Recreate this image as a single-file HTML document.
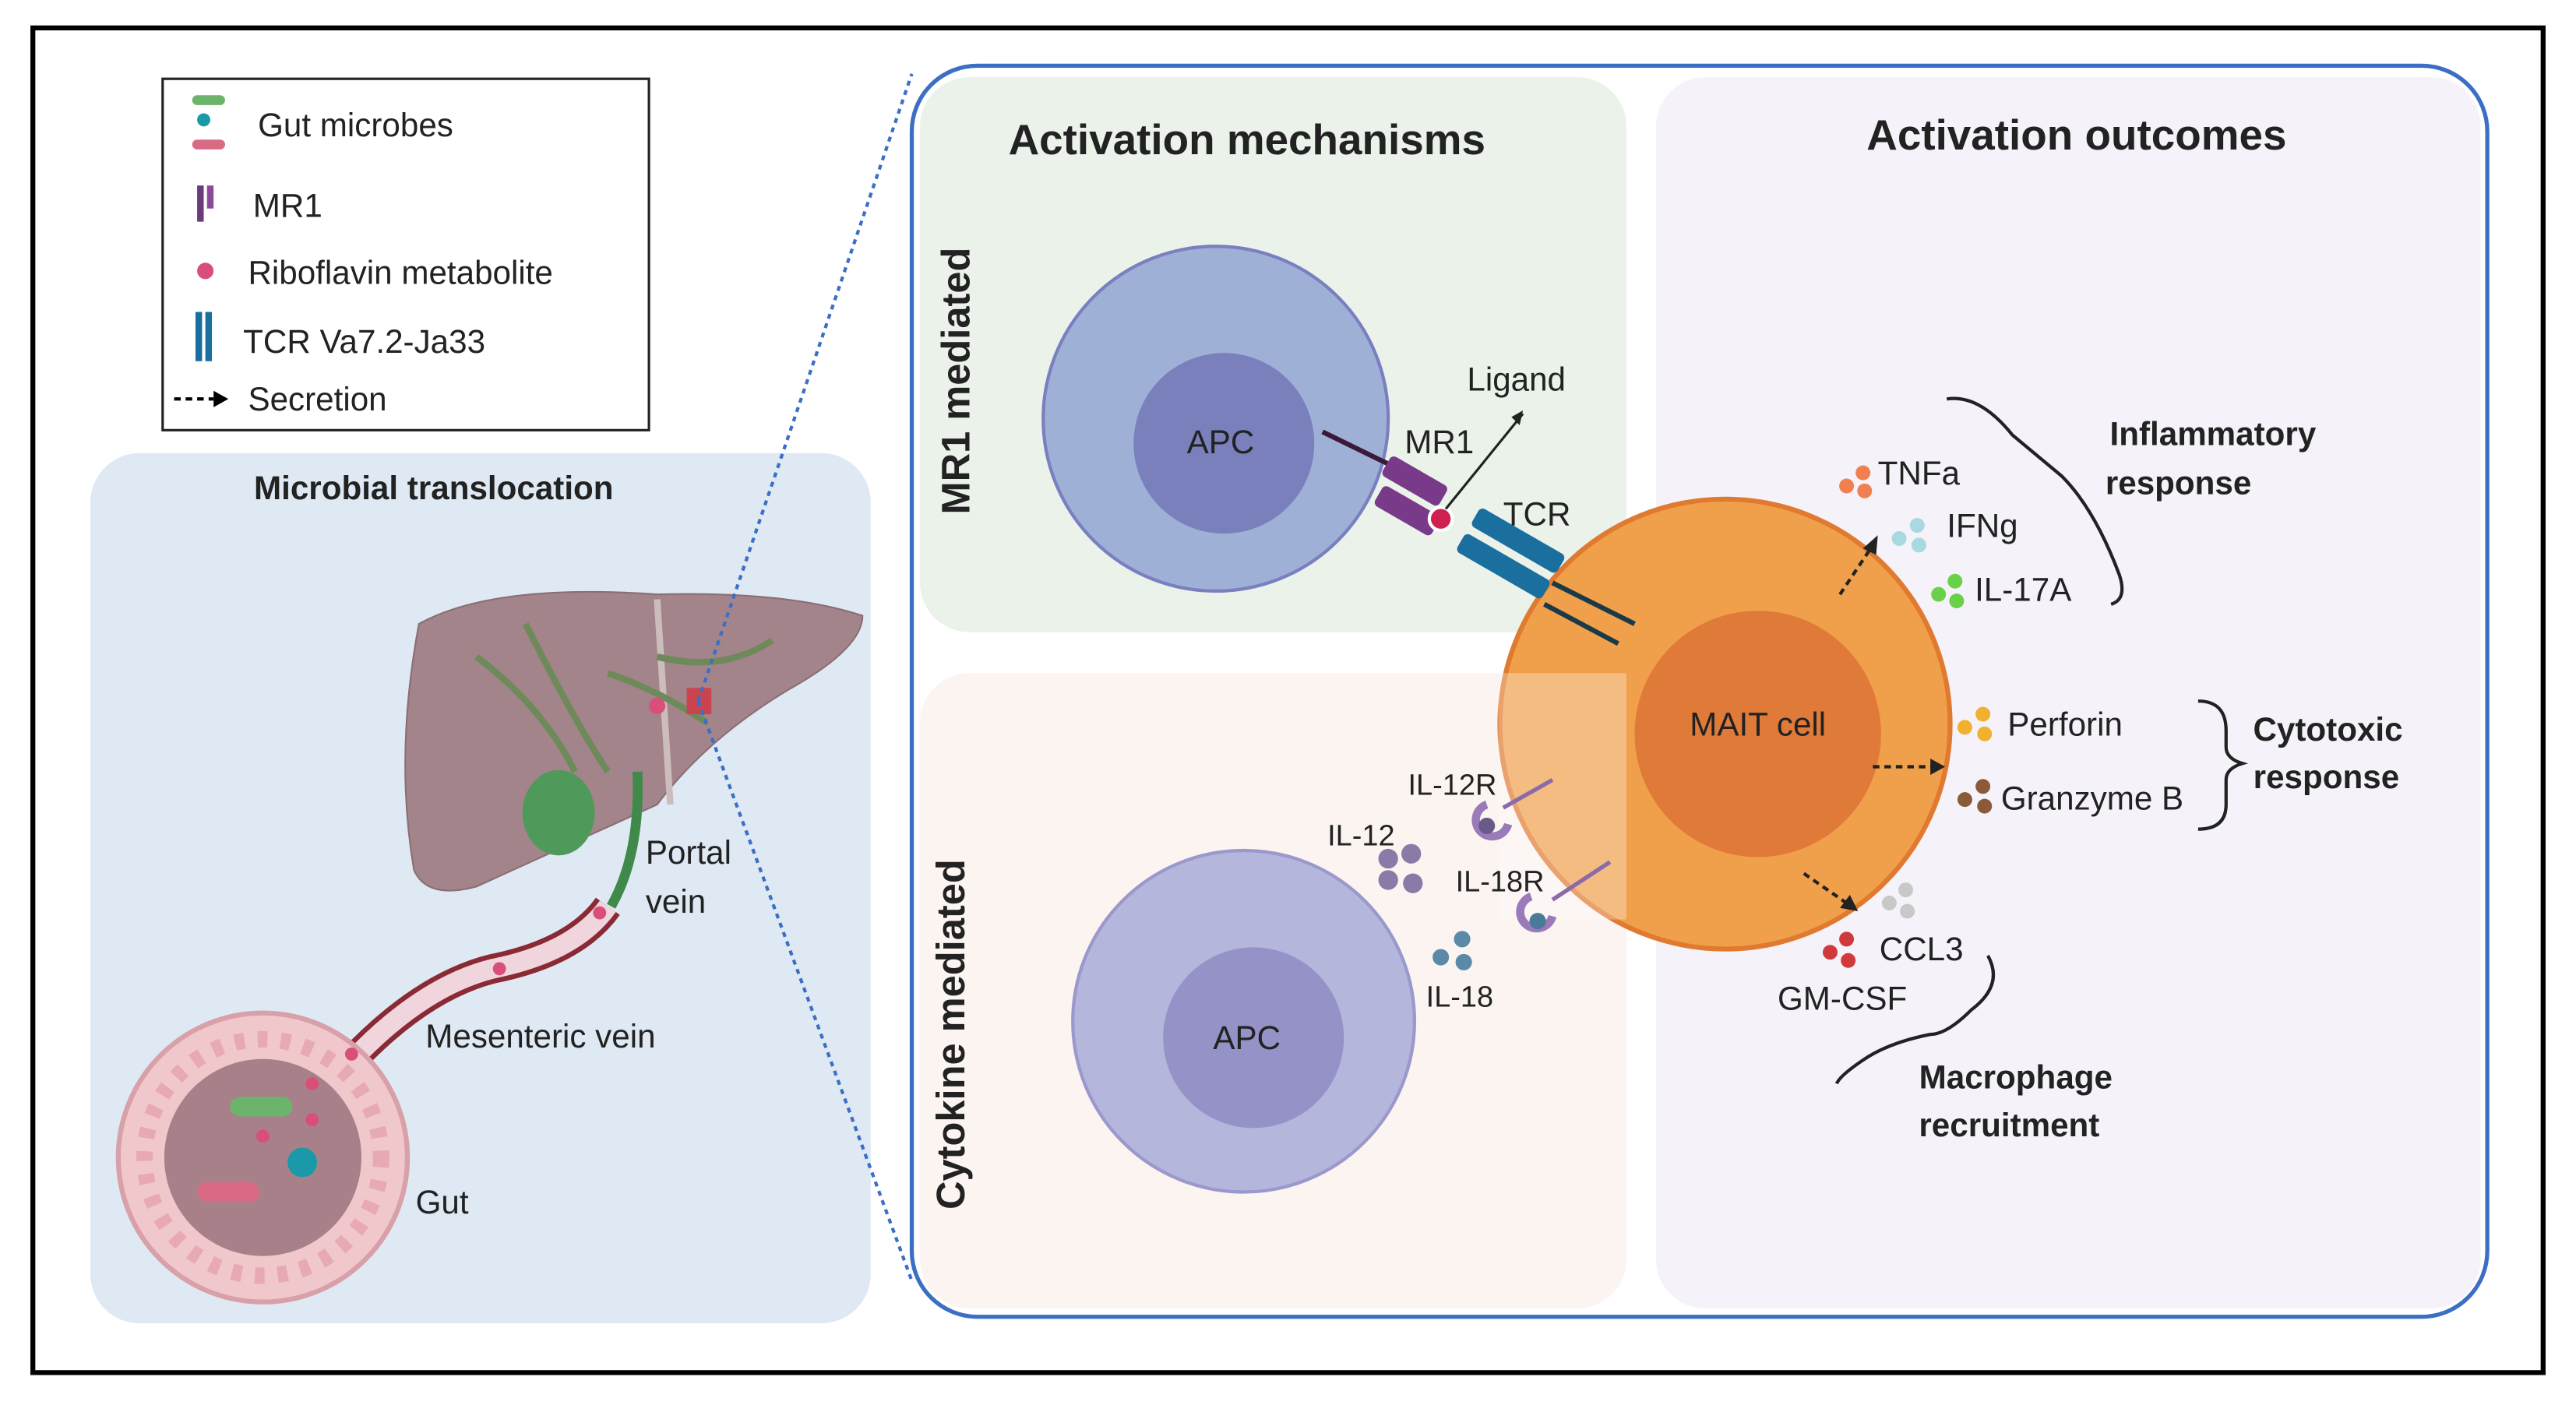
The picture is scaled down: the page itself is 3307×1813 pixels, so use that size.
<!DOCTYPE html>
<html><head><meta charset="utf-8"><style>
html,body{margin:0;padding:0;background:#fff}
svg{display:block}
text{font-family:"Liberation Sans",sans-serif}
</style></head><body>
<svg width="3307" height="1813" viewBox="0 0 1568 860" preserveAspectRatio="none" xmlns="http://www.w3.org/2000/svg">
<rect x="0" y="0" width="1568" height="860" fill="#fff"/>
<rect x="20" y="17" width="1528" height="819" fill="none" stroke="#000" stroke-width="3"/>

<!-- Legend -->
<rect x="99" y="48" width="296" height="214" fill="#fff" stroke="#222" stroke-width="1.5"/>
<rect x="117" y="58" width="20" height="6" rx="3" fill="#6cb36c"/>
<circle cx="124" cy="73" r="4" fill="#1a9aa8"/>
<rect x="117" y="85" width="20" height="6" rx="3" fill="#d86a84"/>
<text x="157" y="83" font-size="20" fill="#222">Gut microbes</text>
<rect x="120" y="113" width="4" height="22" fill="#6a3a7a"/><rect x="126" y="113" width="4" height="14" fill="#8a4a9a"/>
<text x="154" y="132" font-size="20" fill="#222">MR1</text>
<circle cx="125" cy="165" r="5" fill="#d94f7a"/>
<text x="151" y="173" font-size="20" fill="#222">Riboflavin metabolite</text>
<rect x="119" y="190" width="4" height="30" fill="#1a6f9e"/><rect x="125" y="190" width="4" height="30" fill="#1a6f9e"/>
<text x="148" y="215" font-size="20" fill="#222">TCR Va7.2-Ja33</text>
<line x1="106" y1="243" x2="130" y2="243" stroke="#000" stroke-width="2" stroke-dasharray="4 3"/>
<polygon points="130,238 139,243 130,248" fill="#000"/>
<text x="151" y="250" font-size="20" fill="#222">Secretion</text>

<!-- Left panel -->
<rect x="55" y="276" width="475" height="530" rx="30" fill="#dfe9f3"/>
<text x="264" y="304" font-size="20" font-weight="bold" fill="#222" text-anchor="middle">Microbial translocation</text>
<!-- liver -->
<path d="M255,380 Q300,355 400,362 Q480,360 525,375 Q525,395 480,420 Q430,450 400,490 L290,540 Q260,548 252,530 Q240,460 255,380 Z" fill="#a3848a" stroke="#8a6e74" stroke-width="1"/>
<path d="M400,365 L408,490" stroke="#cdbcbc" stroke-width="4" fill="none"/>
<path d="M290,400 Q330,430 350,470 M320,380 Q350,440 370,470 M400,400 Q440,410 470,390 M370,410 Q400,420 430,440" stroke="#6f8a5a" stroke-width="4" fill="none"/>
<ellipse cx="340" cy="495" rx="22" ry="26" fill="#4f9a5a"/>
<path d="M388,470 Q390,520 372,552" stroke="#3f8a4a" stroke-width="6" fill="none"/>
<circle cx="400" cy="430" r="5" fill="#d94f7a"/>
<rect x="418" y="419" width="15" height="16" fill="#c9444f"/>
<!-- veins -->
<path d="M220,640 Q260,600 300,590 Q350,580 370,552" stroke="#8a2a35" stroke-width="18" fill="none"/>
<path d="M220,640 Q260,600 300,590 Q350,580 370,552" stroke="#f0d6dc" stroke-width="12" fill="none"/>
<circle cx="365" cy="556" r="4" fill="#d94f7a"/><circle cx="304" cy="590" r="4" fill="#d94f7a"/>
<text x="393" y="526" font-size="20" fill="#222">Portal</text>
<text x="393" y="556" font-size="20" fill="#222">vein</text>
<text x="259" y="638" font-size="20" fill="#222">Mesenteric vein</text>
<!-- gut -->
<circle cx="160" cy="705" r="88" fill="#f0c8cc" stroke="#d8a0a8" stroke-width="3"/>
<circle cx="160" cy="705" r="60" fill="#a8808a"/>
<circle cx="160" cy="705" r="72" fill="none" stroke="#e8aab2" stroke-width="10" stroke-dasharray="6 8"/>
<rect x="140" y="668" width="38" height="12" rx="6" fill="#6cb36c"/>
<rect x="120" y="720" width="38" height="12" rx="6" fill="#d86a84"/>
<circle cx="184" cy="708" r="9" fill="#1a9aa8"/>
<circle cx="190" cy="660" r="4" fill="#d94f7a"/><circle cx="190" cy="682" r="4" fill="#d94f7a"/><circle cx="160" cy="692" r="4" fill="#d94f7a"/><circle cx="214" cy="642" r="4" fill="#d94f7a"/>
<text x="253" y="739" font-size="20" fill="#222">Gut</text>

<!-- dotted zoom lines -->
<line x1="425" y1="427" x2="555" y2="45" stroke="#3a6fc4" stroke-width="2" stroke-dasharray="3 3"/>
<line x1="425" y1="427" x2="555" y2="780" stroke="#3a6fc4" stroke-width="2" stroke-dasharray="3 3"/>

<!-- right box -->
<rect x="555" y="40" width="959" height="762" rx="40" fill="#fff" stroke="#3a6fc4" stroke-width="2.5"/>
<rect x="560" y="47" width="430" height="338" rx="30" fill="#eaf2ea"/>
<rect x="560" y="410" width="430" height="387" rx="30" fill="#fbf4f1"/>
<rect x="1008" y="47" width="502" height="750" rx="30" fill="#f5f3f9"/>
<text x="759" y="94" font-size="26" font-weight="bold" fill="#222" text-anchor="middle">Activation mechanisms</text>
<text x="1264" y="91" font-size="26" font-weight="bold" fill="#222" text-anchor="middle">Activation outcomes</text>
<text transform="translate(590,232) rotate(-90)" font-size="24" font-weight="bold" fill="#222" text-anchor="middle">MR1 mediated</text>
<text transform="translate(587,630) rotate(-90)" font-size="24" font-weight="bold" fill="#222" text-anchor="middle">Cytokine mediated</text>

<!-- APC top -->
<circle cx="740" cy="255" r="105" fill="#9fb0d6" stroke="#7a7fc0" stroke-width="2"/>
<circle cx="745" cy="270" r="55" fill="#7a80bc"/>
<text x="743" y="276" font-size="20" fill="#222" text-anchor="middle">APC</text>
<!-- APC bottom -->
<circle cx="757" cy="622" r="104" fill="#b4b6dc" stroke="#9a98cc" stroke-width="2"/>
<circle cx="763" cy="632" r="55" fill="#9592c8"/>
<text x="759" y="639" font-size="20" fill="#222" text-anchor="middle">APC</text>

<!-- MAIT -->
<circle cx="1050" cy="441" r="137" fill="#f0a04a" stroke="#e07a30" stroke-width="3"/>
<circle cx="1070" cy="447" r="75" fill="#e07a38"/>
<rect x="912" y="410" width="78" height="150" fill="#fff" opacity="0.3"/>
<text x="1070" y="448" font-size="20" fill="#222" text-anchor="middle">MAIT cell</text>

<!-- MR1/TCR -->
<line x1="805" y1="263" x2="850" y2="285" stroke="#3a1a3a" stroke-width="3"/>
<g transform="translate(860,305) rotate(30)">
<rect x="-25" y="-18" width="40" height="14" rx="3" fill="#7a3a8a"/>
<rect x="-20" y="0" width="40" height="14" rx="3" fill="#7a3a8a"/>
</g>
<circle cx="877" cy="316" r="7" fill="#d02050" stroke="#fff" stroke-width="2"/>
<g transform="translate(915,335) rotate(30)">
<rect x="-25" y="-16" width="60" height="13" rx="3" fill="#1a6f9e"/>
<rect x="-25" y="2" width="60" height="13" rx="3" fill="#1a6f9e"/>
</g>
<line x1="945" y1="355" x2="995" y2="380" stroke="#1a3a4a" stroke-width="3"/>
<line x1="940" y1="368" x2="985" y2="392" stroke="#1a3a4a" stroke-width="3"/>
<line x1="880" y1="310" x2="927" y2="252" stroke="#222" stroke-width="1.5"/>
<polygon points="927,250 920,254 925,259" fill="#222"/>
<text x="893" y="238" font-size="20" fill="#222">Ligand</text>
<text x="855" y="276" font-size="20" fill="#222">MR1</text>
<text x="915" y="320" font-size="20" fill="#222">TCR</text>

<!-- cytokine receptors -->
<line x1="915" y1="492" x2="945" y2="475" stroke="#8a6aa8" stroke-width="2.5"/>
<path d="M905,490 A10,10 0 1,0 918,502" stroke="#9a7ab8" stroke-width="5" fill="none"/>
<circle cx="905" cy="503" r="5" fill="#6a5a8a"/>
<line x1="945" y1="548" x2="980" y2="525" stroke="#8a6aa8" stroke-width="2.5"/>
<path d="M932,546 A10,10 0 1,0 945,558" stroke="#9a7ab8" stroke-width="5" fill="none"/>
<circle cx="936" cy="561" r="5" fill="#4a7a9a"/>
<text x="857" y="484" font-size="18" fill="#222">IL-12R</text>
<text x="886" y="543" font-size="18" fill="#222">IL-18R</text>
<text x="808" y="515" font-size="18" fill="#222">IL-12</text>
<circle cx="845" cy="523" r="6" fill="#8a7aa8"/><circle cx="859" cy="520" r="6" fill="#8a7aa8"/><circle cx="845" cy="536" r="6" fill="#8a7aa8"/><circle cx="860" cy="538" r="6" fill="#8a7aa8"/>
<circle cx="877" cy="583" r="5" fill="#5a8aa8"/><circle cx="890" cy="572" r="5" fill="#5a8aa8"/><circle cx="891" cy="586" r="5" fill="#5a8aa8"/>
<text x="868" y="613" font-size="18" fill="#222">IL-18</text>

<!-- outcomes -->
<line x1="1120" y1="362" x2="1140" y2="332" stroke="#222" stroke-width="2" stroke-dasharray="4 3"/>
<polygon points="1143,326 1142,338 1134,334" fill="#222"/>
<line x1="1140" y1="467" x2="1176" y2="467" stroke="#222" stroke-width="2" stroke-dasharray="4 3"/>
<polygon points="1184,467 1175,462 1175,472" fill="#222"/>
<line x1="1098" y1="532" x2="1124" y2="550" stroke="#222" stroke-width="2" stroke-dasharray="4 3"/>
<polygon points="1131,555 1120,553 1126,545" fill="#222"/>

<circle cx="1124" cy="296" r="4.5" fill="#f08050"/><circle cx="1134" cy="288" r="4.5" fill="#f08050"/><circle cx="1135" cy="299" r="4.5" fill="#f08050"/>
<text x="1143" y="295" font-size="20" fill="#222">TNFa</text>
<circle cx="1156" cy="328" r="4.5" fill="#a8d8e0"/><circle cx="1167" cy="320" r="4.5" fill="#a8d8e0"/><circle cx="1168" cy="332" r="4.5" fill="#a8d8e0"/>
<text x="1185" y="327" font-size="20" fill="#222">IFNg</text>
<circle cx="1180" cy="362" r="4.5" fill="#6ad04a"/><circle cx="1190" cy="354" r="4.5" fill="#6ad04a"/><circle cx="1191" cy="366" r="4.5" fill="#6ad04a"/>
<text x="1202" y="366" font-size="20" fill="#222">IL-17A</text>
<path d="M1185,243 Q1205,240 1225,265 L1255,290 Q1275,310 1290,350 Q1295,365 1285,368" stroke="#222" stroke-width="2" fill="none"/>
<text x="1347" y="271" font-size="20" font-weight="bold" fill="#222" text-anchor="middle">Inflammatory</text>
<text x="1326" y="301" font-size="20" font-weight="bold" fill="#222" text-anchor="middle">response</text>

<circle cx="1196" cy="443" r="4.5" fill="#f0b030"/><circle cx="1207" cy="435" r="4.5" fill="#f0b030"/><circle cx="1208" cy="447" r="4.5" fill="#f0b030"/>
<text x="1222" y="448" font-size="20" fill="#222">Perforin</text>
<circle cx="1196" cy="487" r="4.5" fill="#8a5a3a"/><circle cx="1207" cy="479" r="4.5" fill="#8a5a3a"/><circle cx="1208" cy="491" r="4.5" fill="#8a5a3a"/>
<text x="1218" y="493" font-size="20" fill="#222">Granzyme B</text>
<path d="M1338,427 Q1355,427 1355,445 L1355,455 Q1355,462 1365,465 Q1355,468 1355,475 L1355,490 Q1355,505 1338,505" stroke="#222" stroke-width="2" fill="none"/>
<text x="1417" y="451" font-size="20" font-weight="bold" fill="#222" text-anchor="middle">Cytotoxic</text>
<text x="1416" y="480" font-size="20" font-weight="bold" fill="#222" text-anchor="middle">response</text>

<circle cx="1150" cy="550" r="4.5" fill="#c8c8c8"/><circle cx="1160" cy="542" r="4.5" fill="#c8c8c8"/><circle cx="1161" cy="555" r="4.5" fill="#c8c8c8"/>
<circle cx="1114" cy="580" r="4.5" fill="#d03a3a"/><circle cx="1124" cy="572" r="4.5" fill="#d03a3a"/><circle cx="1125" cy="585" r="4.5" fill="#d03a3a"/>
<text x="1144" y="585" font-size="20" fill="#222">CCL3</text>
<text x="1082" y="615" font-size="20" fill="#222">GM-CSF</text>
<path d="M1210,582 Q1220,600 1200,615 Q1185,630 1175,630 Q1150,635 1135,645 Q1120,655 1118,660" stroke="#222" stroke-width="2" fill="none"/>
<text x="1227" y="663" font-size="20" font-weight="bold" fill="#222" text-anchor="middle">Macrophage</text>
<text x="1223" y="692" font-size="20" font-weight="bold" fill="#222" text-anchor="middle">recruitment</text>
</svg>
</body></html>
